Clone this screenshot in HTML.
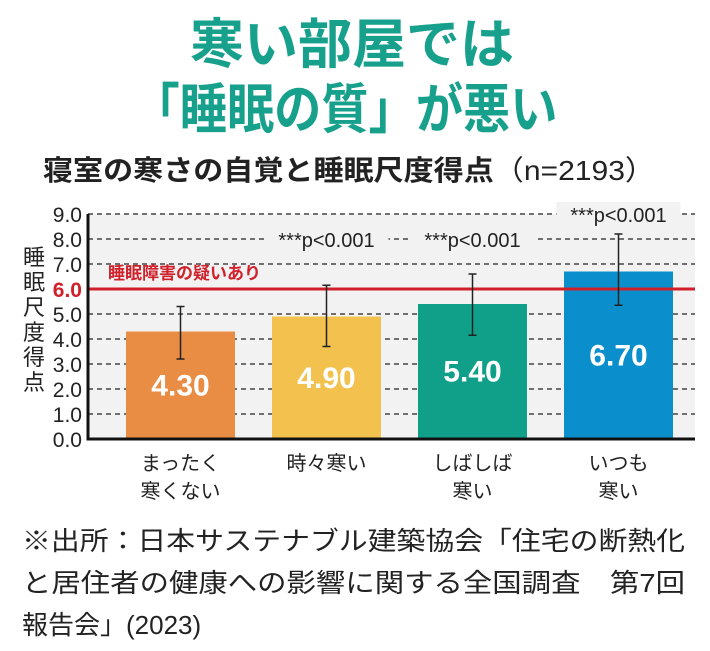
<!DOCTYPE html>
<html><head><meta charset="utf-8"><style>
body{margin:0;background:#fff;width:710px;height:646px;overflow:hidden;font-family:"Liberation Sans","Noto Sans CJK JP",sans-serif}
svg text{font-family:"Liberation Sans","Noto Sans CJK JP",sans-serif}
</style></head><body>
<svg id="c" width="710" height="646" xmlns="http://www.w3.org/2000/svg">
<text x="352" y="63" text-anchor="middle" font-size="54" font-weight="bold" fill="#17a08c">寒い部屋では</text>
<text x="345" y="128" text-anchor="middle" font-size="54" font-weight="bold" fill="#17a08c" textLength="425" lengthAdjust="spacingAndGlyphs">「睡眠の質」が悪い</text>
<text x="43" y="180" font-size="28" font-weight="bold" fill="#222" textLength="612" lengthAdjust="spacingAndGlyphs">寝室の寒さの自覚と睡眠尺度得点<tspan font-weight="normal">（n=2193）</tspan></text>
<rect x="88" y="214" width="607" height="225" fill="#f2f2f2"/>
<g id="grid"></g><g id="bars"></g>
<text font-size="22" fill="#222"><tspan x="23" y="265">睡</tspan><tspan x="23" dy="25">眠</tspan><tspan x="23" dy="25">尺</tspan><tspan x="23" dy="25">度</tspan><tspan x="23" dy="25">得</tspan><tspan x="23" dy="25">点</tspan></text>
<text font-size="26" fill="#222"><tspan x="22" y="550" textLength="663" lengthAdjust="spacingAndGlyphs">※出所：日本サステナブル建築協会「住宅の断熱化</tspan><tspan x="22" y="592" textLength="663" lengthAdjust="spacingAndGlyphs">と居住者の健康への影響に関する全国調査　第7回</tspan><tspan x="22" y="634">報告会」(2023)</tspan></text>
</svg>
<script>
const categories=[["まったく","寒くない"],["時々寒い"],["しばしば","寒い"],["いつも","寒い"]];
const values=[4.30,4.90,5.40,6.70];
const errLow=[3.2,3.7,4.15,5.35];
const errHigh=[5.3,6.15,6.6,8.2];
const sigLabels=["","***p<0.001","***p<0.001","***p<0.001"];
const sigLevel=[0,8,8,9];
const colors=["#e98d45","#f2c14e","#10a08a","#0b8fcc"];
const yTicks=[0,1,2,3,4,5,6,7,8,9];
const threshold=6.0;
const NS="http://www.w3.org/2000/svg";
const x0=88,x1=695,y0=439,yTop=214,yMax=9;
const y=v=>y0-(v/yMax)*(y0-yTop);
const bx=i=>126+146*i, bw=109;
function mk(t,a,p,txt){const e=document.createElementNS(NS,t);for(const k in a)e.setAttribute(k,a[k]);if(txt!==undefined)e.textContent=txt;p.appendChild(e);return e;}
const g=document.getElementById('grid'),b=document.getElementById('bars');
yTicks.forEach(v=>{
 if(v>0){const l=mk('line',{x1:x0,x2:x1,y1:y(v),y2:y(v),stroke:'#222','stroke-width':1.3,'stroke-dasharray':'5,4'},g);
 
 }
 const t=mk('text',{x:82,y:y(v)+8,'text-anchor':'end','font-size':21,fill:v===threshold?'#d0202a':'#222','font-weight':v===threshold?'bold':'normal'},g,v.toFixed(1));
 
 
});
values.forEach((v,i)=>{
 const r=mk('rect',{x:bx(i),y:y(v),width:bw,height:y0-y(v),fill:colors[i]},b);
 
 
 const t=mk('text',{x:bx(i)+bw/2,y:y(v/2)+10,'text-anchor':'middle','font-size':30,'font-weight':'bold',fill:'#fff'},b,v.toFixed(2));
 
 
});
const th=mk('line',{x1:x0,x2:x1,y1:y(threshold),y2:y(threshold),stroke:'#d0202a','stroke-width':3},b);


const tl=mk('text',{x:108,y:y(threshold)-10,'font-size':17,'font-weight':'bold',fill:'#d0202a'},b,'睡眠障害の疑いあり');


values.forEach((v,i)=>{
 const cx=bx(i)+bw/2;
 const e=mk('path',{d:`M${cx},${y(errLow[i])}V${y(errHigh[i])}M${cx-4},${y(errLow[i])}h8M${cx-4},${y(errHigh[i])}h8`,stroke:'#222','stroke-width':1.5,fill:'none'},b);
 
 
 if(sigLabels[i]){
  const s=mk('rect',{x:cx-62,y:y(sigLevel[i])-12,width:124,height:24,fill:'#f2f2f2'},b);
  
  
  const st=mk('text',{x:cx,y:y(sigLevel[i])+8,'text-anchor':'middle','font-size':20,fill:'#222'},b,sigLabels[i]);
  
  
 }
 categories[i].forEach((ln,j)=>{
  const c=mk('text',{x:cx,y:470+j*28,'text-anchor':'middle','font-size':20,fill:'#222'},b,ln);
  
  
 });
});
const ax=mk('path',{d:`M${x0},${yTop}V${y0}H${x1}`,stroke:'#111','stroke-width':3,fill:'none'},b);


</script>
</body></html>
